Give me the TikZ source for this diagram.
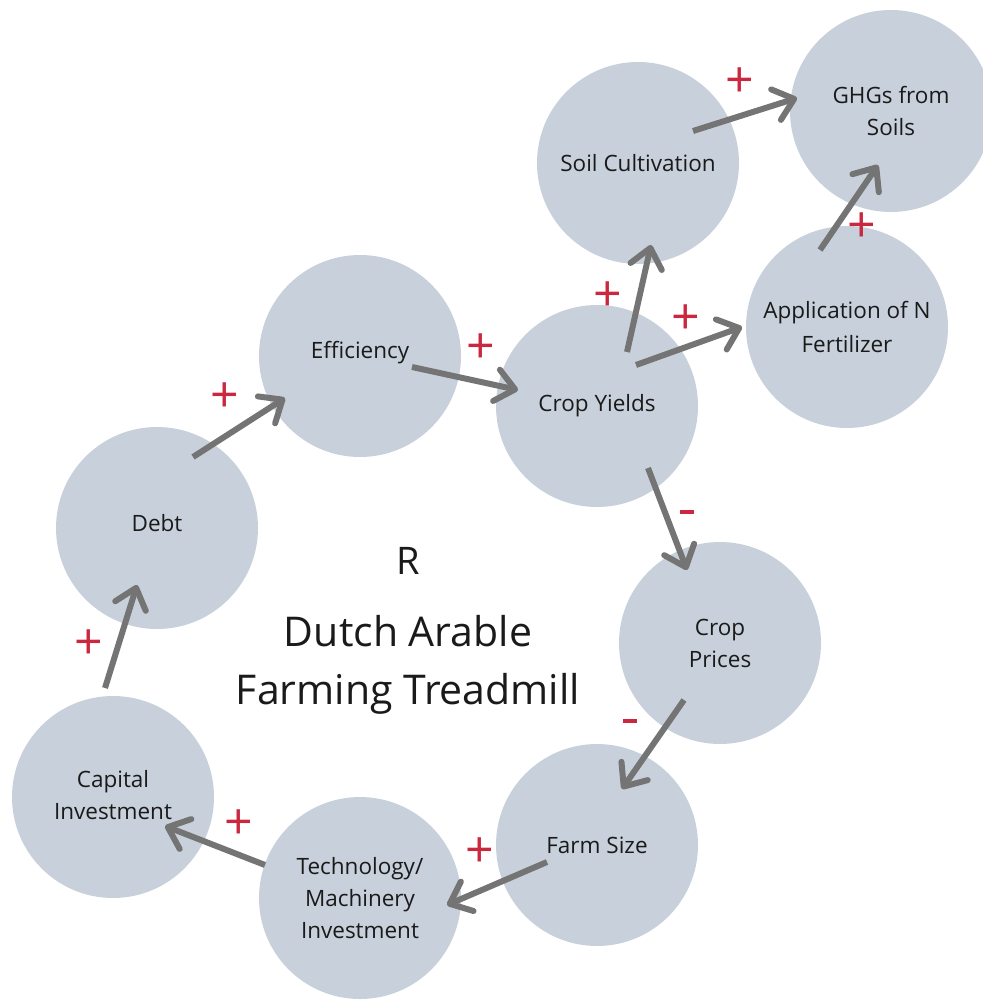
\documentclass[tikz,border=0pt]{standalone}
\usepackage{fontspec}
\setmainfont{Open Sans}
\usetikzlibrary{arrows.meta,calc}
\definecolor{bubble}{HTML}{C8D1DB}
\definecolor{arrowgray}{HTML}{747474}
\definecolor{signred}{HTML}{C9283E}
\definecolor{ink}{HTML}{1A1A1A}
\tikzset{
  bubble/.style={circle, fill=bubble, minimum size=202pt, inner sep=0pt,
    align=center, text=ink, font=\fontsize{22.5}{32}\selectfont},
  link/.style={draw=arrowgray, line width=6pt,
    -{Straight Barb[length=19pt, width=32pt, round]}},
  plus/.style={text=signred, inner sep=0pt, font=\fontsize{50}{50}\selectfont},
  minus/.style={fill=signred, minimum width=14pt, minimum height=4.5pt, inner sep=0pt},
  title/.style={align=center, text=ink, font=\fontsize{41}{58}\selectfont}
}
\begin{document}
\begin{tikzpicture}[x=1pt,y=-1pt]
\useasboundingbox (0,0) rectangle (982,1000);

% loop variables
\node[bubble] (ghg)  at (891,111) {GHGs from\\Soils};
\node[bubble] (soil) at (638,163) {Soil Cultivation};
\node[bubble] (fert) at (847,327) {\raisebox{2pt}{Application of N}\\Fertilizer};
\node[bubble] (eff)  at (360,356) {\raisebox{13pt}{Efficiency}};
\node[bubble] (cy)   at (597,406) {Crop Yields};
\node[bubble] (debt) at (157,528) {\raisebox{11pt}{Debt}};
\node[bubble] (cp)   at (720,643) {Crop\\Prices};
\node[bubble] (cap)  at (113,797) {\raisebox{4pt}{Capital}\\\raisebox{4pt}{Investment}};
\node[bubble] (fs)   at (597,845) {Farm Size};
\node[bubble] (tech) at (360,898) {\raisebox{-3pt}{Technology/}\\\raisebox{-3pt}{Machinery}\\\raisebox{-3pt}{Investment}};

% causal links
\draw[link] ($(eff)+(52,11)$)   -- ($(cy)+(-79,-16)$);
\draw[link] ($(debt)+(36,-71)$) -- ($(eff)+(-75,42)$);
\draw[link] ($(cap)+(-8,-109)$) -- ($(debt)+(-20,57)$);
\draw[link] ($(tech)+(-95,-33)$) -- ($(cap)+(52,29)$);
\draw[link] ($(fs)+(-50,17)$)   -- ($(tech)+(87,7)$);
\draw[link] ($(cp)+(-36,57)$)   -- ($(fs)+(25,-56)$);
\draw[link] ($(cy)+(51,62)$)    -- ($(cp)+(-33,-73)$);
\draw[link] ($(cy)+(30,-54)$)   -- ($(soil)+(13,82)$);
\draw[link] ($(cy)+(39,-41)$)   -- ($(fert)+(-105,0)$);
\draw[link] ($(soil)+(55,-32)$) -- ($(ghg)+(-94,-13)$);
\draw[link] ($(fert)+(-27,-77)$) -- ($(ghg)+(-13,54)$);

% polarities
\node[plus] (p1)  at (740,83)  {+};
\node[plus] (p2)  at (862,228) {+};
\node[plus] (p3)  at (608,297) {+};
\node[plus] (p4)  at (686,320) {+};
\node[plus] (p5)  at (481,349) {+};
\node[plus] (p6)  at (225,398) {+};
\node[plus] (p7)  at (89,645)  {+};
\node[plus] (p8)  at (239,825) {+};
\node[plus] (p9)  at (480,853) {+};
\node[minus] (m1) at (630,721) {};
\node[minus] (m2) at (687,512) {};

% loop label
\node[font=\fontsize{38}{38}\selectfont, text=ink] (r) at (408,561) {R};
\node[title] (name) at (408,665) {Dutch Arable\\Farming Treadmill};
\end{tikzpicture}
\end{document}
